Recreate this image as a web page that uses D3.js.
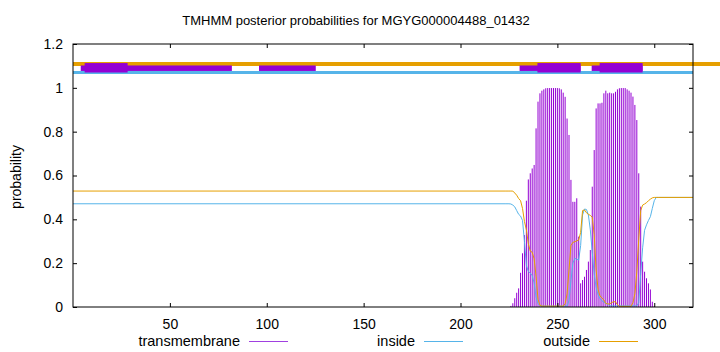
<!DOCTYPE html>
<html><head><meta charset="utf-8">
<script src="https://cdn.jsdelivr.net/npm/d3@7"></script>
<style>
html,body{margin:0;padding:0;background:#fff;}
text{font-family:"Liberation Sans",Arial,sans-serif;}
</style></head>
<body>
<svg id="chart" width="720" height="352"></svg>
<script>
// ---- data ----
const title = "TMHMM posterior probabilities for MGYG000004488_01432";
const seqLength = 320;
const xTicks = [50, 100, 150, 200, 250, 300];
const yTicks = [0, 0.2, 0.4, 0.6, 0.8, 1, 1.2];
const yTickLabels = ["0", "0.2", "0.4", "0.6", "0.8", "1", "1.2"];
const seriesNames = ["transmembrane", "inside", "outside"];

// per-residue values for residues 224..302; flat before/after
const regionStart = 224;
const tmValues = [0,0,0.005,0.017,0.04,0.065,0.085,0.156,0.245,0.328,
  0.485,0.582,0.61,0.632,0.648,0.815,0.937,0.975,0.987,0.993,
  0.998,0.999,0.999,0.999,0.999,0.999,0.999,0.998,0.993,0.978,
  0.959,0.86,0.785,0.58,0.48,0.48,0.496,0.321,0.108,0.123,
  0.138,0.169,0.207,0.26,0.549,0.716,0.906,0.929,0.929,0.932,
  0.975,0.987,0.975,0.978,0.975,0.975,0.982,0.993,0.998,0.999,
  0.999,0.999,0.993,0.987,0.978,0.96,0.922,0.853,0.61,0.458,
  0.207,0.161,0.131,0.108,0.08,0.024,0.003,0,0];
const insideValues = [0.471,0.471,0.47,0.465,0.457,0.44,0.423,0.415,0.395,0.3,
  0.19,0.162,0.155,0.143,0.11,0.045,0.015,0.006,0.004,0.004,
  0.004,0.004,0.004,0.004,0.004,0.004,0.004,0.004,0.004,0.004,
  0.004,0.004,0.03,0.12,0.2,0.222,0.218,0.214,0.28,0.42,
  0.447,0.445,0.42,0.352,0.25,0.15,0.09,0.055,0.038,0.028,
  0.022,0.017,0.012,0.005,0.005,0.005,0.005,0.005,0.005,0.005,
  0.005,0.005,0.005,0.005,0.005,0.005,0.005,0.005,0.02,0.15,
  0.27,0.35,0.375,0.395,0.412,0.45,0.485,0.5,0.5];
const outsideValues = [0.529,0.529,0.529,0.529,0.52,0.51,0.495,0.485,0.45,0.39,
  0.352,0.29,0.255,0.25,0.22,0.14,0.035,0.008,0.004,0.004,
  0.004,0.004,0.004,0.004,0.004,0.004,0.004,0.004,0.004,0.004,
  0.015,0.06,0.17,0.28,0.295,0.298,0.302,0.306,0.34,0.44,
  0.443,0.43,0.423,0.418,0.41,0.33,0.17,0.08,0.05,0.042,
  0.032,0.016,0.014,0.014,0.02,0.024,0.024,0.01,0.003,0.003,
  0.003,0.003,0.003,0.003,0.003,0.02,0.06,0.16,0.31,0.44,
  0.465,0.47,0.476,0.485,0.492,0.498,0.5,0.5,0.5];
const insideBefore = 0.471, outsideBefore = 0.529;
const insideAfter = 0.5, outsideAfter = 0.5;

// topology bars at the top: [start, end]
const topThinSegments = [[4, 82], [96, 125.3], [230.5, 262], [267.7, 294]];
const topThickSegments = [[6, 28.2], [239.7, 262], [271.8, 294]];
const topOutsideLevel = 1.109;
const topInsideLevel = 1.070;
const thinBand = [1.077, 1.102];
const thickBand = [1.070, 1.113];

// ---- chart ----
const colTM = "#9400d3", colIn = "#56b4e9", colOut = "#e69f00";
const svg = d3.select("#chart");
const L = 73, R = 693, T = 44, B = 307;
const x = d3.scaleLinear().domain([0, seqLength]).range([L, R]);
const y = d3.scaleLinear().domain([0, 1.2]).range([B, T]);

function buildSeries(vals, before, after) {
  const pts = [[0, before], [regionStart - 1, before]];
  vals.forEach((v, i) => pts.push([regionStart + i, v]));
  pts.push([seqLength, after]);
  return pts;
}
const tmPts = tmValues.map((v, i) => [regionStart + i, v]).filter(d => d[1] > 0);
const inPts = buildSeries(insideValues, insideBefore, insideAfter);
const outPts = buildSeries(outsideValues, outsideBefore, outsideAfter);

// impulses
svg.append("g").selectAll("line").data(tmPts).join("line")
  .attr("x1", d => x(d[0])).attr("x2", d => x(d[0]))
  .attr("y1", y(0)).attr("y2", d => y(d[1]))
  .attr("stroke", colTM).attr("stroke-width", 1);

const line = d3.line().x(d => x(d[0])).y(d => y(d[1]));
svg.append("path").datum(inPts).attr("d", line).attr("fill", "none")
  .attr("stroke", colIn).attr("stroke-width", 1);
svg.append("path").datum(outPts).attr("d", line).attr("fill", "none")
  .attr("stroke", colOut).attr("stroke-width", 1);

// top topology lines
svg.append("line").attr("x1", x(0)).attr("x2", 720)
  .attr("y1", y(topOutsideLevel)).attr("y2", y(topOutsideLevel))
  .attr("stroke", colOut).attr("stroke-width", 4);
svg.append("line").attr("x1", x(0)).attr("x2", x(seqLength))
  .attr("y1", y(topInsideLevel)).attr("y2", y(topInsideLevel))
  .attr("stroke", colIn).attr("stroke-width", 3);
svg.append("g").selectAll("rect").data(topThinSegments).join("rect")
  .attr("x", d => x(d[0])).attr("width", d => x(d[1]) - x(d[0]))
  .attr("y", y(thinBand[1])).attr("height", y(thinBand[0]) - y(thinBand[1]))
  .attr("fill", colTM);
svg.append("g").selectAll("rect").data(topThickSegments).join("rect")
  .attr("x", d => x(d[0])).attr("width", d => x(d[1]) - x(d[0]))
  .attr("y", y(thickBand[1])).attr("height", y(thickBand[0]) - y(thickBand[1]))
  .attr("fill", colTM);

// frame
svg.append("rect").attr("x", L).attr("y", T).attr("width", R - L).attr("height", B - T)
  .attr("fill", "none").attr("stroke", "#000").attr("stroke-width", 1);

// axes
const fs = 14;
svg.append("g").attr("transform", `translate(0,${B})`)
  .call(d3.axisBottom(x).tickValues(xTicks).tickSize(-4).tickPadding(12));
svg.append("g").attr("transform", `translate(${L},0)`)
  .call(d3.axisLeft(y).tickValues(yTicks).tickSize(-4).tickPadding(10)
    .tickFormat((d, i) => yTickLabels[i]));
svg.append("g").attr("transform", `translate(0,${T})`)
  .call(d3.axisTop(x).tickValues(xTicks).tickSize(-4).tickFormat(""));
svg.append("g").attr("transform", `translate(${R},0)`)
  .call(d3.axisRight(y).tickValues(yTicks).tickSize(-4).tickFormat(""));
svg.selectAll(".domain").remove();
svg.selectAll(".tick line").attr("stroke", "#000");
svg.selectAll(".tick text").attr("font-size", fs).attr("fill", "#000")
  .attr("font-family", "'Liberation Sans', Arial, sans-serif");

// title
svg.append("text").attr("x", 356).attr("y", 25).attr("text-anchor", "middle")
  .attr("font-size", 13).text(title);
// y label
svg.append("text").attr("transform", "translate(21,177) rotate(-90)")
  .attr("text-anchor", "middle").attr("font-size", fs).text("probability");

// legend
const legendItems = [
  {name: seriesNames[0], textEnd: 240, col: "#a040e0"},
  {name: seriesNames[1], textEnd: 415, col: colIn},
  {name: seriesNames[2], textEnd: 590, col: colOut}
];
const lg = svg.append("g");
legendItems.forEach(it => {
  lg.append("text").attr("x", it.textEnd).attr("y", 346).attr("text-anchor", "end")
    .attr("font-size", 14.5).text(it.name);
  lg.append("line").attr("x1", it.textEnd + 9).attr("x2", it.textEnd + 48)
    .attr("y1", 341.5).attr("y2", 341.5).attr("stroke", it.col).attr("stroke-width", 1);
});
</script>
</body></html>
